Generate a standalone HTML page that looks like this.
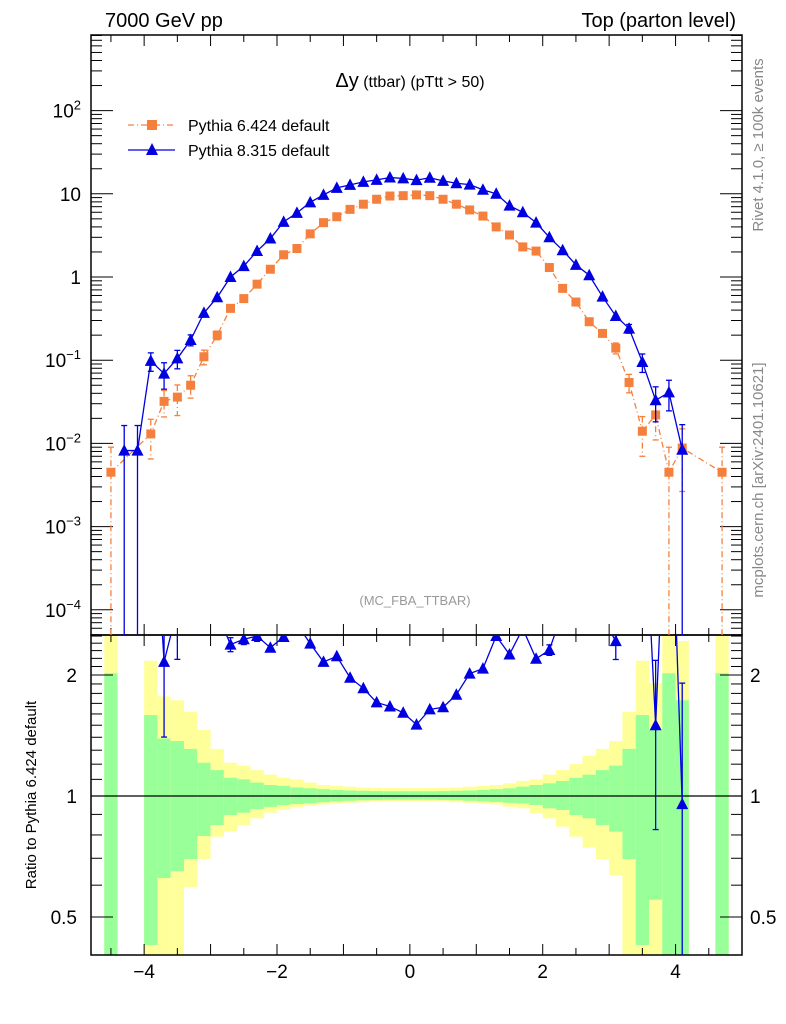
<!DOCTYPE html>
<html><head><meta charset="utf-8"><style>
html,body{margin:0;padding:0;background:#fff;width:786px;height:1024px;overflow:hidden;}
svg{display:block;font-family:"Liberation Sans",sans-serif;}
</style></head><body>
<svg id="c" width="786" height="1024" viewBox="0 0 786 1024" xmlns="http://www.w3.org/2000/svg">
<defs>
<clipPath id="cm"><rect x="91" y="35" width="651" height="600"/></clipPath>
<clipPath id="cr"><rect x="91" y="635" width="651" height="320"/></clipPath>
</defs>
<text x="105" y="27" font-size="20">7000 GeV pp</text>
<text x="736" y="27" font-size="20" text-anchor="end">Top (parton level)</text>
<text x="410" y="87" font-size="16" text-anchor="middle"><tspan font-size="20">Δy</tspan> (ttbar) (pTtt &gt; 50)</text>
<text x="415" y="605" font-size="13" fill="#999" text-anchor="middle">(MC_FBA_TTBAR)</text>
<text transform="translate(763,145) rotate(-90)" font-size="15" fill="#888" text-anchor="middle">Rivet 4.1.0, ≥ 100k events</text>
<text transform="translate(763,480) rotate(-90)" font-size="15" fill="#888" text-anchor="middle">mcplots.cern.ch [arXiv:2401.10621]</text>
<text transform="translate(36,795) rotate(-90)" font-size="15" text-anchor="middle">Ratio to Pythia 6.424 default</text>
<g>
<g>
<line x1="128" y1="125" x2="175" y2="125" stroke="#f5803e" stroke-width="1.3" stroke-dasharray="6,3,1,3"/>
<rect x="147" y="120" width="10" height="10" fill="#f5803e"/>
<text x="188" y="131" font-size="16">Pythia 6.424 default</text></g>
<g>
<line x1="128" y1="150" x2="175" y2="150" stroke="#0000e0" stroke-width="1.3"/>
<polygon points="152,143 146,155 158,155" fill="#0000e0"/>
<text x="188" y="156" font-size="16">Pythia 8.315 default</text></g>
</g>
<g id="bands" clip-path="url(#cr)"></g>
<g id="axes"></g>
<g id="mainS" clip-path="url(#cm)"></g>
<g id="ratS" clip-path="url(#cr)"></g>
</svg>
<script>
const binCenters=[-4.5,-4.3,-4.1,-3.9,-3.7,-3.5,-3.3,-3.1,-2.9,-2.7,-2.5,-2.3,-2.1,-1.9,-1.7,-1.5,-1.3,-1.1,-0.9,-0.7,-0.5,-0.3,-0.1,0.1,0.3,0.5,0.7,0.9,1.1,1.3,1.5,1.7,1.9,2.1,2.3,2.5,2.7,2.9,3.1,3.3,3.5,3.7,3.9,4.1,4.3,4.5,4.7];
const pythia6=[0.0045,null,null,0.013,0.032,0.036,0.05,0.11,0.2,0.42,0.55,0.82,1.24,1.85,2.2,3.3,4.5,5.3,6.5,7.5,8.6,9.4,9.5,9.7,9.5,8.6,7.5,6.4,5.4,4.0,3.2,2.3,2.05,1.3,0.73,0.5,0.29,0.21,0.14,0.054,0.014,0.022,0.0045,0.0088,null,null,0.0045];
const pythia6Err=[1,0,0,0.5,0.35,0.4,0.3,0.2,0.12,0.08,0.06,0.05,0.04,0.03,0.03,0.03,0.03,0.03,0.03,0.03,0.03,0.03,0.03,0.03,0.03,0.03,0.03,0.03,0.03,0.03,0.03,0.03,0.04,0.05,0.06,0.07,0.08,0.1,0.15,0.25,0.5,0.5,1,0.7,0,0,1];
const pythia8=[null,0.0082,0.0082,0.098,0.069,0.105,0.175,0.37,0.57,1.0,1.35,2.05,2.9,4.6,5.9,7.9,9.7,11.8,12.8,13.9,14.7,15.7,15.3,14.6,15.6,14.3,13.4,12.9,11.2,10.0,7.2,6.0,4.5,3.0,2.1,1.4,1.05,0.58,0.34,0.24,0.095,0.033,0.041,0.0084,null,null,null];
const pythia8Err=[0,1,1,0.25,0.35,0.25,0.15,0.1,0.06,0.04,0.03,0.03,0.02,0.02,0.02,0.02,0.02,0.02,0.02,0.02,0.02,0.02,0.02,0.02,0.02,0.02,0.02,0.02,0.02,0.02,0.02,0.02,0.02,0.03,0.03,0.04,0.05,0.06,0.1,0.12,0.25,0.45,0.4,1,0,0,0];
const greenHi=[2.02,null,null,1.59,1.39,1.37,1.31,1.21,1.16,1.11,1.10,1.08,1.065,1.06,1.05,1.045,1.04,1.035,1.032,1.03,1.028,1.027,1.027,1.027,1.027,1.028,1.03,1.032,1.035,1.04,1.045,1.055,1.065,1.075,1.09,1.11,1.13,1.16,1.19,1.31,1.59,1.46,2.02,1.73,null,null,2.02];
const greenLo=[0.3,null,null,0.426,0.625,0.65,0.697,0.795,0.847,0.897,0.909,0.928,0.94,0.95,0.955,0.96,0.965,0.97,0.973,0.976,0.978,0.979,0.98,0.98,0.979,0.978,0.976,0.973,0.97,0.966,0.962,0.959,0.95,0.932,0.923,0.897,0.88,0.847,0.815,0.697,0.426,0.552,0.3,0.3,null,null,0.3];
const yellowHi=[2.6,null,null,2.17,1.77,1.73,1.62,1.46,1.31,1.21,1.19,1.16,1.13,1.11,1.10,1.08,1.065,1.06,1.055,1.05,1.048,1.047,1.046,1.046,1.047,1.048,1.05,1.055,1.06,1.065,1.075,1.09,1.10,1.13,1.16,1.20,1.26,1.31,1.37,1.62,2.17,1.91,2.6,2.43,null,null,2.6];
const yellowLo=[0.3,null,null,0.3,0.3,0.3,0.594,0.697,0.792,0.815,0.847,0.88,0.909,0.923,0.937,0.946,0.953,0.958,0.962,0.965,0.968,0.969,0.97,0.97,0.969,0.968,0.965,0.962,0.958,0.953,0.94,0.932,0.906,0.88,0.839,0.792,0.744,0.696,0.635,0.3,0.3,0.3,0.3,0.3,null,null,0.3];
const yTickBases=["10","10","10","10","1","10","10"];
const yTickSup=["\u22124","\u22123","\u22122","\u22121","","","2"];
const ratioTickLabels=["0.5","1","2"];
const xTickLabels=["\u22124","\u22122","0","2","4"];

const NS="http://www.w3.org/2000/svg";
const X=v=>91+(v+4.8)*651/9.8;
const Y=v=>277-83.2*Math.log10(v);
const R=v=>796-121*Math.log2(v);
function mk(p,t,a){const e=document.createElementNS(NS,t);for(const k in a)e.setAttribute(k,a[k]);p.appendChild(e);return e;}
const axes=document.getElementById('axes'),bands=document.getElementById('bands'),mainS=document.getElementById('mainS'),ratS=document.getElementById('ratS');
const BW=0.2;
binCenters.forEach((c,i)=>{
  if(yellowHi[i]==null)return;
  const x0=X(c-BW/2),w=X(c+BW/2)-x0;
  const yt=Math.max(635,R(yellowHi[i])),yb=Math.min(955,R(yellowLo[i]));
  let r=mk(bands,'rect',{x:x0,y:yt,width:w,height:yb-yt,fill:'#ffff99'});
  
  
  const gt=Math.max(635,R(greenHi[i])),gb=Math.min(955,R(greenLo[i]));
  r=mk(bands,'rect',{x:x0,y:gt,width:w,height:gb-gt,fill:'#99ff99'});
  
  
});
let f=mk(axes,'rect',{x:91,y:35,width:651,height:600,fill:'none',stroke:'#000','stroke-width':1.5});


f=mk(axes,'rect',{x:91,y:635,width:651,height:320,fill:'none',stroke:'#000','stroke-width':1.5});


let l=mk(axes,'line',{x1:91,y1:796,x2:742,y2:796,stroke:'#000','stroke-width':1.2});


for(let k=-9;k<=9;k++){const v=k*0.5,x=X(v),L=(k%2===0)?11:7;
  [[35,35+L],[635,635-L],[635,635+L],[955,955-L]].forEach(p=>mk(axes,'line',{x1:x,y1:p[0],x2:x,y2:p[1],stroke:'#000','stroke-width':1}));}
[-4,-2,0,2,4].forEach((v,i)=>{const t=mk(axes,'text',{x:X(v),y:978,'font-size':19,'text-anchor':'middle'});t.textContent=xTickLabels[i];
  
  });
for(let d=-5;d<=2;d++){for(let m=1;m<=9;m++){const v=m*Math.pow(10,d),y=Y(v);if(y<35||y>635)continue;const L=m===1?22:11;
  mk(axes,'line',{x1:91,y1:y,x2:91+L,y2:y,stroke:'#000','stroke-width':1});mk(axes,'line',{x1:742,y1:y,x2:742-L,y2:y,stroke:'#000','stroke-width':1});}}
[-4,-3,-2,-1,0,1,2].forEach((d,i)=>{const t=mk(axes,'text',{x:81,y:Y(Math.pow(10,d))+7,'font-size':19,'text-anchor':'end'});
  
  
  const b=mk(t,'tspan',{});b.textContent=yTickBases[i];
  if(yTickSup[i]){const s=mk(t,'tspan',{'font-size':13,dy:-8});s.textContent=yTickSup[i];}
});
for(let v=0.4;v<=2.55;v+=0.1){const vv=Math.round(v*10)/10,y=R(vv);if(y<635||y>955)continue;const maj=(vv===0.5||vv===1||vv===2);const L=maj?22:11;
  mk(axes,'line',{x1:91,y1:y,x2:91+L,y2:y,stroke:'#000','stroke-width':1});mk(axes,'line',{x1:742,y1:y,x2:742-L,y2:y,stroke:'#000','stroke-width':1});}
[0.5,1,2].forEach((v,i)=>{let t=mk(axes,'text',{x:77,y:R(v)+7,'font-size':19,'text-anchor':'end'});t.textContent=ratioTickLabels[i];
  
  
  t=mk(axes,'text',{x:750,y:R(v)+7,'font-size':19});t.textContent=ratioTickLabels[i];
  
  });
function series(g,vals,errs,col,dash,marker,name,toY){
  const pts=[];vals.forEach((v,i)=>{if(v!=null&&v>0)pts.push([X(binCenters[i]),toY(v),i]);});
  const path=mk(g,'polyline',{points:pts.map(p=>p[0]+','+p[1]).join(' '),fill:'none',stroke:col,'stroke-width':1.3});
  if(dash)path.setAttribute('stroke-dasharray',dash);
  
  
  pts.forEach(p=>{const v=vals[p[2]],e=errs[p[2]];
    if(e>0){const hi=toY(v*(1+e)),lo=(v*(1-e)>1e-9)?Math.min(960,toY(v*(1-e))):960;
      const eb=mk(g,'line',{x1:p[0],y1:hi,x2:p[0],y2:lo,stroke:col,'stroke-width':1.3});if(dash)eb.setAttribute('stroke-dasharray',dash);
      
      
      if(Math.abs(hi-p[1])>4)mk(g,'line',{x1:p[0]-3,y1:hi,x2:p[0]+3,y2:hi,stroke:col,'stroke-width':1.3});
      if(lo<955&&Math.abs(lo-p[1])>4)mk(g,'line',{x1:p[0]-3,y1:lo,x2:p[0]+3,y2:lo,stroke:col,'stroke-width':1.3});}
    let m;
    if(marker==='sq')m=mk(g,'rect',{x:p[0]-4.5,y:p[1]-4.5,width:9,height:9,fill:col});
    else m=mk(g,'polygon',{points:`${p[0]},${p[1]-6.5} ${p[0]-6},${p[1]+5} ${p[0]+6},${p[1]+5}`,fill:col});
    
    });
}
series(mainS,pythia6,pythia6Err,'#f5803e','6,3,1,3','sq','pythia6',Y);
series(mainS,pythia8,pythia8Err,'#0000e0',null,'tri','pythia8',Y);
const ratioVals=pythia8.map((v,i)=>(v!=null&&pythia6[i]!=null)?v/pythia6[i]:null);
series(ratS,ratioVals,pythia8Err,'#0000e0',null,'tri','ratio',R);
</script>
</body></html>
